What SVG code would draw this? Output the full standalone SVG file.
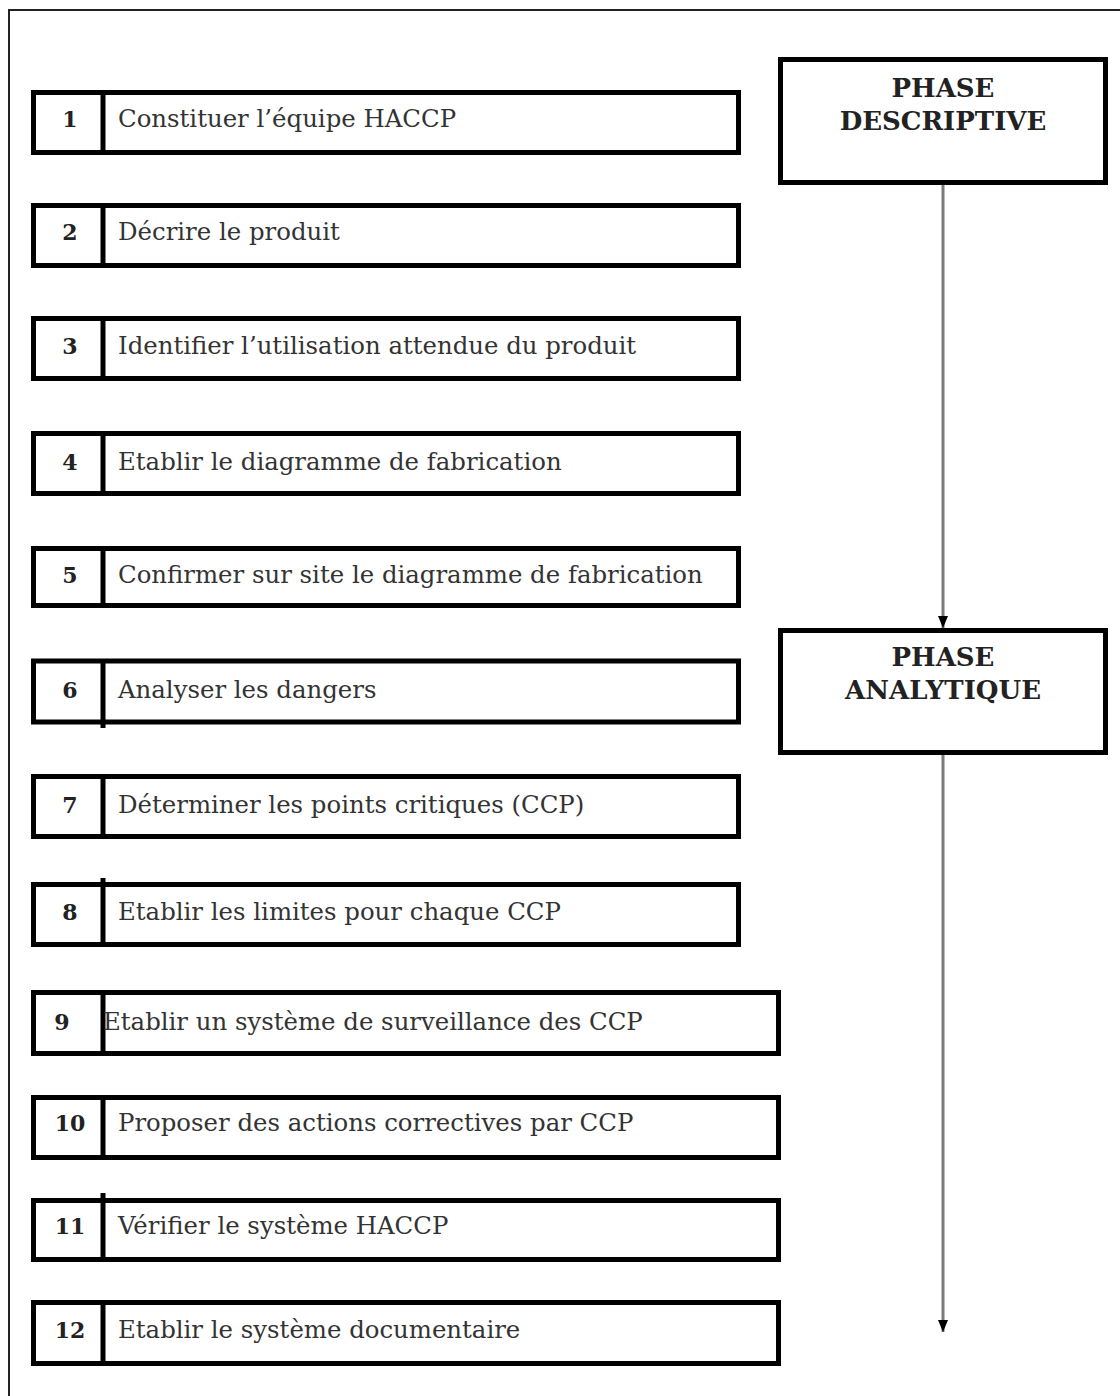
<svg xmlns="http://www.w3.org/2000/svg" width="1120" height="1396" viewBox="0 0 1120 1396">
<defs>
<style>
.box{fill:#fff;stroke:#000;stroke-width:5}
.div{stroke:#000;stroke-width:5}
.num{font-family:"DejaVu Serif",serif;font-weight:bold;font-size:22px;fill:#222;text-anchor:middle}
.lbl{font-family:"DejaVu Serif",serif;font-size:24.4px;fill:#333}
.ph{font-family:"DejaVu Serif",serif;font-weight:bold;font-size:26px;fill:#222;text-anchor:middle}
.conn{stroke:#7a7a7a;stroke-width:3;fill:none}
</style>
<marker id="ah" markerWidth="12" markerHeight="10" refX="12" refY="5" orient="auto" markerUnits="userSpaceOnUse">
<path d="M0,0 L12,5 L0,10 Z" fill="#000"/>
</marker>
</defs>
<rect width="1120" height="1396" fill="#fff"/>
<path d="M9,1396 V10 H1120" fill="none" stroke="#222" stroke-width="2"/>

<g id="step1"><rect class="box" x="33.5" y="92.5" width="705" height="60"/><line class="div" x1="103" y1="92.5" x2="103" y2="152.5"/><text class="num" x="70" y="127">1</text><text class="lbl" x="118" y="127">Constituer l’équipe HACCP</text></g>
<g id="step2"><rect class="box" x="33.5" y="205.5" width="705" height="60"/><line class="div" x1="103" y1="205.5" x2="103" y2="265.5"/><text class="num" x="70" y="240">2</text><text class="lbl" x="118" y="240">Décrire le produit</text></g>
<g id="step3"><rect class="box" x="33.5" y="318.5" width="705" height="60"/><line class="div" x1="103" y1="318.5" x2="103" y2="378.5"/><text class="num" x="70" y="354">3</text><text class="lbl" x="118" y="354">Identifier l’utilisation attendue du produit</text></g>
<g id="step4"><rect class="box" x="33.5" y="433.5" width="705" height="60"/><line class="div" x1="103" y1="433.5" x2="103" y2="493.5"/><text class="num" x="70" y="470">4</text><text class="lbl" x="118" y="470">Etablir le diagramme de fabrication</text></g>
<g id="step5"><rect class="box" x="33.5" y="548.5" width="705" height="57"/><line class="div" x1="103" y1="548.5" x2="103" y2="605.5"/><text class="num" x="70" y="583">5</text><text class="lbl" x="118" y="583">Confirmer sur site le diagramme de fabrication</text></g>
<g id="step6"><rect class="box" x="33.5" y="661" width="705" height="61"/><line class="div" x1="103" y1="661" x2="103" y2="728"/><text class="num" x="70" y="698">6</text><text class="lbl" x="118" y="698">Analyser les dangers</text></g>
<g id="step7"><rect class="box" x="33.5" y="776.5" width="705" height="60"/><line class="div" x1="103" y1="776.5" x2="103" y2="836.5"/><text class="num" x="70" y="813">7</text><text class="lbl" x="118" y="813">Déterminer les points critiques (CCP)</text></g>
<g id="step8"><rect class="box" x="33.5" y="884.5" width="705" height="60"/><line class="div" x1="103" y1="878" x2="103" y2="944.5"/><text class="num" x="70" y="920">8</text><text class="lbl" x="118" y="920">Etablir les limites pour chaque CCP</text></g>
<g id="step9"><rect class="box" x="33.5" y="992.5" width="745" height="61"/><line class="div" x1="103" y1="992.5" x2="103" y2="1053.5"/><text class="num" x="62" y="1030">9</text><text class="lbl" x="103" y="1030">Etablir un système de surveillance des CCP</text></g>
<g id="step10"><rect class="box" x="33.5" y="1097.5" width="745" height="60"/><line class="div" x1="103" y1="1097.5" x2="103" y2="1157.5"/><text class="num" x="70" y="1131">10</text><text class="lbl" x="118" y="1131">Proposer des actions correctives par CCP</text></g>
<g id="step11"><rect class="box" x="33.5" y="1200.5" width="745" height="59"/><line class="div" x1="103" y1="1193" x2="103" y2="1259.5"/><text class="num" x="70" y="1234">11</text><text class="lbl" x="118" y="1234">Vérifier le système HACCP</text></g>
<g id="step12"><rect class="box" x="33.5" y="1302.5" width="745" height="61"/><line class="div" x1="103" y1="1302.5" x2="103" y2="1363.5"/><text class="num" x="70" y="1338">12</text><text class="lbl" x="118" y="1338">Etablir le système documentaire</text></g>

<g id="phase-descriptive"><rect class="box" x="780.5" y="59.5" width="325" height="123"/><text class="ph" x="943" y="97">PHASE</text><text class="ph" x="943" y="130">DESCRIPTIVE</text></g>
<g id="phase-analytique"><rect class="box" x="780.5" y="630.5" width="325" height="122"/><text class="ph" x="943" y="666">PHASE</text><text class="ph" x="943" y="699">ANALYTIQUE</text></g>

<g id="connectors">
<line class="conn" x1="943" y1="185" x2="943" y2="628" marker-end="url(#ah)"/>
<line class="conn" x1="943" y1="755" x2="943" y2="1332" marker-end="url(#ah)"/>
</g>
</svg>
